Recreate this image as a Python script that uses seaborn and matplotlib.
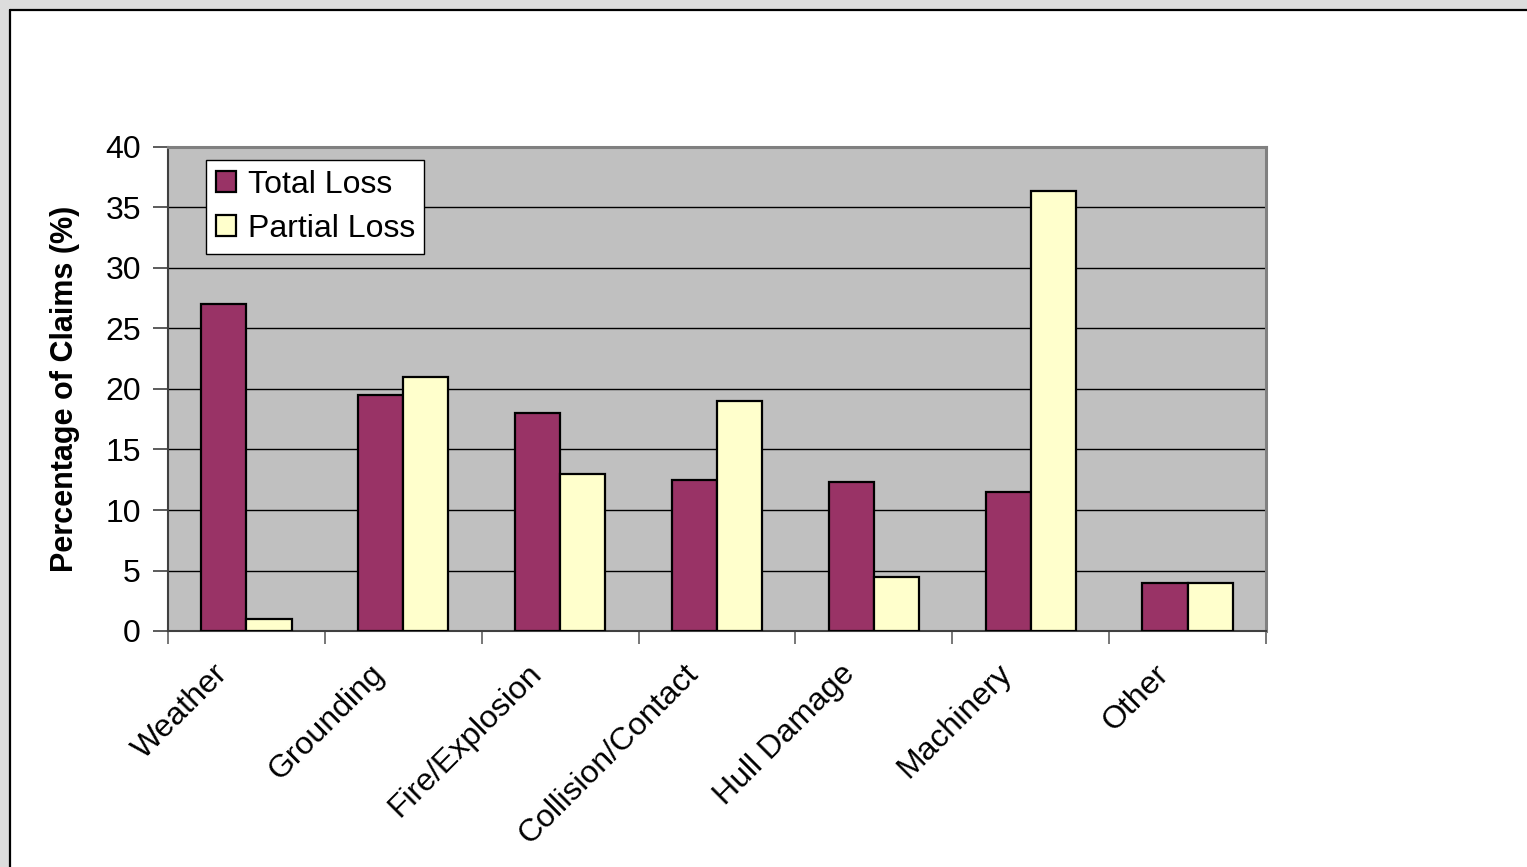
import matplotlib
matplotlib.use("Agg")
import matplotlib.pyplot as plt
import matplotlib.patches as mpatches
import matplotlib.transforms as mtransforms
import numpy as np
import pandas as pd
import seaborn as sns

categories = ["Weather", "Grounding", "Fire/Explosion", "Collision/Contact",
              "Hull Damage", "Machinery", "Other"]
total_loss = [27.0, 19.5, 18.0, 12.5, 12.3, 11.5, 4.0]
partial_loss = [1.0, 21.0, 13.0, 19.0, 4.5, 36.4, 4.0]
series_names = ["Total Loss", "Partial Loss"]
y_ticks = [0, 5, 10, 15, 20, 25, 30, 35, 40]

df = pd.DataFrame({
    "Category": categories * 2,
    "Type": [series_names[0]] * len(categories) + [series_names[1]] * len(categories),
    "Value": total_loss + partial_loss,
})

sns.set_theme(style="white")
plt.rcParams["font.family"] = ["Liberation Sans", "DejaVu Sans"]
plt.rcParams["text.color"] = "black"
plt.rcParams["axes.labelcolor"] = "black"
plt.rcParams["xtick.color"] = "black"
plt.rcParams["ytick.color"] = "black"

fig = plt.figure(figsize=(15.27, 8.67), dpi=100)
fig.patch.set_facecolor("#dcdcdc")
W, H = 1527, 867
# white chart area with black top/left border
fig.patches.append(mpatches.Rectangle((10 / W, 0), 1 - 10 / W, 1 - 10 / H,
                                      transform=fig.transFigure, facecolor="white",
                                      edgecolor="none", zorder=-5))
fig.lines.append(plt.Line2D([10 / W, 1], [1 - 10 / H, 1 - 10 / H], transform=fig.transFigure,
                            color="black", lw=1.6, zorder=-4))
fig.lines.append(plt.Line2D([10 / W, 10 / W], [0, 1 - 10 / H], transform=fig.transFigure,
                            color="black", lw=1.6, zorder=-4))

ax = fig.add_axes([168 / W, (867 - 631) / H, (1266 - 168) / W, (631 - 147) / H])
ax.set_facecolor("#c0c0c0")
ax.set_zorder(2)

sns.barplot(data=df, x="Category", y="Value", hue="Type", order=categories,
            hue_order=series_names, palette=["#993366", "#ffffcc"], width=0.575,
            edgecolor="black", linewidth=1.6, saturation=1, ax=ax, zorder=3)

FS = 23
ax.set_ylim(0, 40)
ax.set_xlim(-0.5, len(categories) - 0.5)
ax.set_yticks(y_ticks)
ax.set_yticklabels([str(t) for t in y_ticks], fontsize=FS)
for t in y_ticks[1:-1]:
    ax.axhline(t, color="black", lw=1.0, zorder=1)

ax.set_xticks(range(len(categories)))
ax.set_xticklabels(categories, fontsize=FS, rotation=45, ha="right", va="top",
                   rotation_mode="anchor")
ax.tick_params(axis="x", which="major", length=0, pad=20)
ax.set_xticks(np.arange(-0.5, len(categories), 1.0), minor=True)
ax.tick_params(axis="x", which="minor", length=9, width=1.2, color="#606060", direction="out",
               bottom=True)
ax.tick_params(axis="y", length=11, width=1.2, color="#404040", direction="out", left=True, pad=8.5)
shift = mtransforms.ScaledTranslation(-34 / 100, 0, fig.dpi_scale_trans)
for lab in ax.get_xticklabels():
    lab.set_transform(lab.get_transform() + shift)

ax.set_xlabel("")
ax.set_ylabel("Percentage of Claims (%)", fontsize=22, fontweight="bold", labelpad=18)

for side in ["top", "right"]:
    ax.spines[side].set_color("#808080")
    ax.spines[side].set_linewidth(2.2)
ax.spines["left"].set_color("#404040")
ax.spines["left"].set_linewidth(1.5)
ax.spines["bottom"].set_color("#404040")
ax.spines["bottom"].set_linewidth(1.5)

handles, labels = ax.get_legend_handles_labels()
leg = ax.legend(handles, labels, loc="upper left",
                bbox_to_anchor=((206 - 168) / 1098, (631 - 160) / 484),
                borderaxespad=0, fontsize=FS, frameon=True, fancybox=False,
                edgecolor="black", facecolor="white", framealpha=1,
                handlelength=0.65, handleheight=0.65, handletextpad=0.35,
                labelspacing=0.45, borderpad=0.3)
leg.get_frame().set_linewidth(1.0)
for h in leg.legend_handles:
    h.set_edgecolor("black")
    h.set_linewidth(1.6)

fig.savefig("out.png", dpi=100, facecolor=fig.get_facecolor())
